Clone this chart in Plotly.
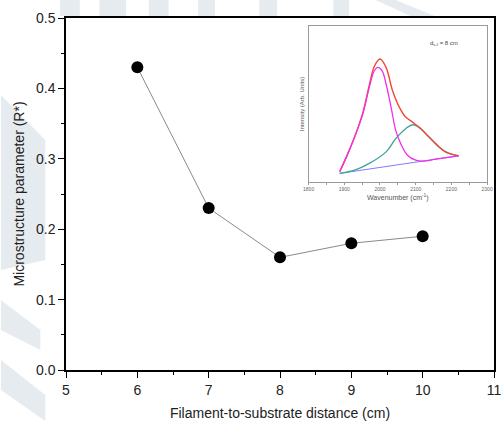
import plotly.graph_objects as go

# Main data
distance_cm = [6, 7, 8, 9, 10]
r_star = [0.43, 0.23, 0.16, 0.18, 0.19]

# Inset data
mag_wn = [1887, 1906, 1929, 1952, 1970, 1984, 1994, 2006, 2017, 2031, 2044, 2058, 2077, 2100, 2119, 2156, 2220]
mag_val = [0.066, 0.161, 0.289, 0.437, 0.607, 0.713, 0.735, 0.713, 0.628, 0.480, 0.331, 0.246, 0.172, 0.140, 0.134, 0.146, 0.168]
red_wn = [1887, 1906, 1929, 1952, 1970, 1984, 2000, 2017, 2035, 2054, 2072, 2091, 2109, 2128, 2156, 2183, 2220]
red_val = [0.066, 0.161, 0.290, 0.445, 0.620, 0.740, 0.788, 0.735, 0.586, 0.480, 0.416, 0.384, 0.352, 0.310, 0.246, 0.193, 0.168]
teal_wn = [1887, 1929, 1970, 2017, 2044, 2072, 2093, 2114, 2137, 2165, 2193, 2220]
teal_val = [0.055, 0.076, 0.119, 0.193, 0.278, 0.342, 0.367, 0.342, 0.289, 0.225, 0.183, 0.168]
base_wn = [1887, 2220]
base_val = [0.055, 0.168]
inset_ticks = [1800, 1900, 2000, 2100, 2200, 2300]

W, H = 502, 421
L, R, T, B = 66, 2, 18, 51
PW, PH = W - L - R, H - T - B


def px(x):
    return (x - L) / PW


def py(y):
    return (H - B - y) / PH


fig = go.Figure()

fig.add_trace(go.Scatter(
    x=distance_cm, y=r_star, mode="lines+markers",
    line=dict(color="#8a8a8a", width=1),
    marker=dict(color="black", size=12),
    showlegend=False, xaxis="x", yaxis="y"))

fig.add_trace(go.Scatter(x=base_wn, y=base_val, mode="lines",
                         line=dict(color="#7d7dff", width=1), showlegend=False,
                         xaxis="x2", yaxis="y2"))
fig.add_trace(go.Scatter(x=teal_wn, y=teal_val, mode="lines", line_shape="spline",
                         line=dict(color="#3aa39a", width=1.3), showlegend=False,
                         xaxis="x2", yaxis="y2"))
fig.add_trace(go.Scatter(x=red_wn, y=red_val, mode="lines", line_shape="spline",
                         line=dict(color="#f2483a", width=1.4), showlegend=False,
                         xaxis="x2", yaxis="y2"))
fig.add_trace(go.Scatter(x=mag_wn, y=mag_val, mode="lines", line_shape="spline",
                         line=dict(color="#f030e8", width=1.3), showlegend=False,
                         xaxis="x2", yaxis="y2"))

font_main = "Liberation Sans, Arial, sans-serif"

# watermark-like decoration
wm = "#e6ebef"
shapes = []
def rect(x0, y0, x1, y1):
    shapes.append(dict(type="rect", xref="paper", yref="paper", layer="below",
                       x0=px(x0), x1=px(x1), y0=py(y1), y1=py(y0),
                       fillcolor=wm, line=dict(width=0)))
def poly(points):
    d = "M " + " L ".join(f"{px(a)},{py(b)}" for a, b in points) + " Z"
    shapes.append(dict(type="path", xref="paper", yref="paper", layer="below",
                       path=d, fillcolor=wm, line=dict(width=0)))

for x0, x1 in [(60, 80), (100, 127), (150, 170), (200, 217), (262, 280), (337, 353)]:
    rect(x0, 0, x1, 16)
poly([(380, 0), (400, 0), (440, 16), (415, 16)])
poly([(0, 95), (45, 140), (45, 260), (0, 270)])
poly([(0, 300), (40, 330), (40, 350), (0, 330)])
poly([(0, 360), (45, 395), (45, 421), (0, 390)])

fig.update_layout(
    width=W, height=H,
    margin=dict(l=L, r=R, t=T, b=B),
    paper_bgcolor="white", plot_bgcolor="white",
    font=dict(family=font_main, color="#222"),
    shapes=shapes,
    xaxis=dict(range=[5, 11], dtick=1, tickformat="d",
               showline=True, linecolor="black", linewidth=1.5, mirror=True,
               ticks="outside", ticklen=6, tickwidth=1.2, tickcolor="black",
               minor=dict(dtick=0.5, ticks="outside", ticklen=3, tickcolor="black"),
               showgrid=False, zeroline=False,
               tickfont=dict(size=14, color="#222"),
               title=dict(text="Filament-to-substrate distance (cm)",
                          font=dict(size=14, color="#222"), standoff=12)),
    yaxis=dict(range=[0, 0.5], dtick=0.1, tickformat=".1f",
               showline=True, linecolor="black", linewidth=1.5, mirror=True,
               ticks="outside", ticklen=6, tickwidth=1.2, tickcolor="black",
               minor=dict(dtick=0.05, ticks="outside", ticklen=3, tickcolor="black"),
               showgrid=False, zeroline=False,
               tickfont=dict(size=14, color="#222"),
               title=dict(text="Microstructure parameter (R*)",
                          font=dict(size=14, color="#222"), standoff=8)),
    xaxis2=dict(domain=[px(312), px(493)], anchor="y2", range=[1800, 2300],
                tickvals=inset_ticks, ticktext=[str(v) for v in inset_ticks],
                showline=True, linecolor="#9a9a9a", linewidth=1, mirror=True,
                ticks="outside", ticklen=2, tickcolor="#9a9a9a",
                minor=dict(dtick=50, ticks="outside", ticklen=1.5, tickcolor="#9a9a9a"),
                showgrid=False, zeroline=False,
                tickfont=dict(size=5, color="#666"),
                title=dict(text="Wavenumber (cm<sup>-1</sup>)",
                           font=dict(size=7, color="#555"), standoff=4)),
    yaxis2=dict(domain=[py(182), py(26)], anchor="x2", range=[0, 1],
                showline=True, linecolor="#9a9a9a", linewidth=1, mirror=True,
                showticklabels=False, ticks="", showgrid=False, zeroline=False,
                title=dict(text="Intensity (Arb. Units)",
                           font=dict(size=6, color="#555"), standoff=2)),
    annotations=[dict(text="d<sub>s-f</sub> = 8 cm", xref="x2 domain", yref="y2 domain",
                      x=0.85, y=0.92, showarrow=False,
                      font=dict(size=6, color="#444"))],
)

fig.write_html("out.html",
               config={"displayModeBar": False},
               post_script="document.body.style.margin='0';document.body.style.overflow='hidden';")
